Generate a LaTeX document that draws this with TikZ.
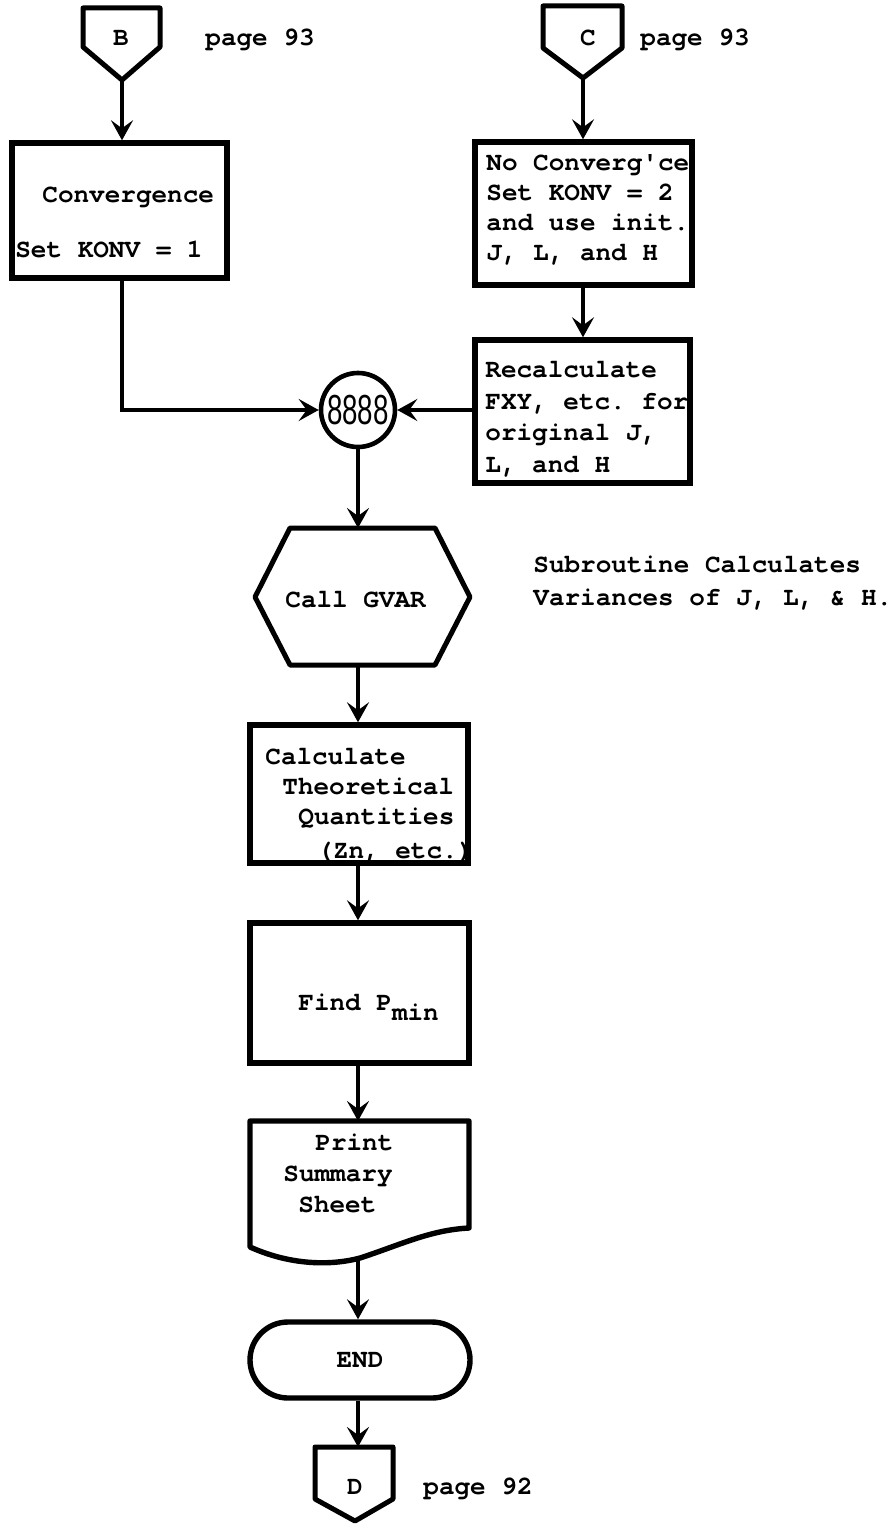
\documentclass[tikz,border=0pt]{standalone}
\usepackage{fontspec}
\setmonofont{TeX Gyre Cursor}
\newfontfamily\digitfont{Liberation Sans}
\usetikzlibrary{arrows.meta,shapes.misc}
\newcommand{\tw}[1]{\ttfamily\bfseries\fontsize{13pt}{#1}\selectfont}
\newcommand{\rows}[1]{\begin{tabular}[t]{@{}l@{}}#1\end{tabular}}
\tikzset{
  boxline/.style={draw, line width=2.7pt, inner sep=0pt, rectangle},
  shapeline/.style={draw, line width=2.5pt, line join=round},
  conn/.style={line width=2.3pt, -{Stealth[length=10pt,width=11pt,inset=4pt]}},
  txt/.style={inner sep=0pt, anchor=base west},
  tag/.style={inner sep=0pt, font=\tw{15pt}},
}
\begin{document}
\begin{tikzpicture}[x=0.5pt,y=-0.5pt]
\useasboundingbox (0,0) rectangle (894,1524);
\coordinate (col) at (358,0);
% --- B connector
\draw[shapeline] (83,8) -- (160,8) -- (160,47) -- (122,80) -- (83,47) -- cycle;
\coordinate (Btip) at (122,80);
\node[tag] (Bl) at (121,38) {B};
\node[tag, anchor=base west] (Bp) at (205,45.5) {page 93};
% --- C connector
\draw[shapeline] (543,6) -- (622,6) -- (622,48) -- (583,78) -- (543,48) -- cycle;
\coordinate (Ctip) at (583,78);
\node[tag] (Cl) at (588,38) {C};
\node[tag, anchor=base west] (Cp) at (640,45.5) {page 93};
% --- Convergence box
\node[boxline, minimum width=107.5pt, minimum height=67.5pt] (conv) at (119.5,210.5) {};
\node[txt] (convT) at (15,202.5) {\tw{15.25pt}\rows{\hspace{13.5pt}Convergence\\[12.25pt]Set KONV = 1}};
% --- No convergence box
\node[boxline, minimum width=108.5pt, minimum height=71.5pt] (noconv) at (583.5,213.5) {};
\node[txt] (noconvT) at (486,170.5) {\tw{15pt}\rows{No Converg'ce\\Set KONV = 2\\and use init.\\J, L, and H}};
% --- Recalculate box
\node[boxline, minimum width=107.5pt, minimum height=71.5pt] (recalc) at (582.5,411.5) {};
\node[txt] (recalcT) at (485,377.5) {\tw{15.8pt}\rows{Recalculate\\FXY, etc. for\\original J,\\L, and H}};
% --- junction 8888
\node[circle, draw, line width=2.3pt, minimum size=37pt, inner sep=0pt] (c8888) at (358,410)
  {\digitfont\fontsize{21pt}{21pt}\selectfont\scalebox{0.66}[1]{8888}};
% --- Call GVAR hexagon
\draw[shapeline] (255,597) -- (290,528) -- (435,528) -- (470,597) -- (435,665) -- (290,665) -- cycle;
\coordinate (hexT) at (358,528);
\coordinate (hexB) at (358,665);
\node[txt] (gvar) at (285,607.5) {\tw{15pt}Call GVAR};
\node[txt] (note) at (533,572.5) {\tw{16.5pt}\rows{Subroutine Calculates\\Variances of J, L, \& H.}};
% --- Calculate box
\node[boxline, minimum width=109pt, minimum height=69pt] (calc) at (359,794) {};
\node[txt] (calcT) at (265,764.5) {\tw{15pt}\rows{Calculate\\\hspace{8.5pt}Theoretical\\\hspace{16.5pt}Quantities\\[2pt]\hspace{26pt}(Zn, etc.)}};
% --- Find box
\node[boxline, minimum width=109.5pt, minimum height=70pt] (find) at (359.5,993) {};
\node[txt] (findT) at (298,1010) {\tw{15pt}Find P\raisebox{-5pt}{min}};
% --- Print document
\draw[shapeline, line width=2.7pt] (250,1121) -- (469,1121) -- (469,1228)
  .. controls (430,1230) and (400,1245) .. (360,1258)
  .. controls (330,1266) and (290,1265) .. (250,1247) -- cycle;
\coordinate (docT) at (358,1121);
\coordinate (docB) at (358,1259);
\node[txt] (printT) at (283,1150.5) {\tw{15.5pt}\rows{\hspace{16pt}Print\\Summary\\\hspace{7.5pt}Sheet}};
% --- END terminator
\node[draw, line width=2.7pt, rounded rectangle, minimum width=110pt, minimum height=38pt, inner sep=0pt, font=\tw{15pt}] (end) at (360,1360) {END};
% --- D connector
\draw[shapeline] (315,1447) -- (393,1447) -- (393,1499) -- (355,1521) -- (315,1499) -- cycle;
\coordinate (Dtop) at (358,1447);
\node[tag] (Dl) at (355,1487) {D};
\node[tag, anchor=base west] (Dp) at (423,1494.5) {page 92};
% --- connectors
\draw[conn] (Btip) -- (Btip |- conv.north);
\draw[conn] (Ctip) -- (Ctip |- noconv.north);
\draw[conn] (Ctip |- noconv.south) -- (Ctip |- recalc.north);
\draw[conn] (Btip |- conv.south) |- (c8888.west);
\draw[conn] (recalc.west |- c8888.center) -- (c8888.east);
\draw[conn] (c8888.south) -- (hexT);
\draw[conn] (hexB) -- (col |- calc.north);
\draw[conn] (col |- calc.south) -- (col |- find.north);
\draw[conn] (col |- find.south) -- (docT);
\draw[conn] (docB) -- (col |- end.north);
\draw[conn] (col |- end.south) -- (Dtop);
\end{tikzpicture}
\end{document}
